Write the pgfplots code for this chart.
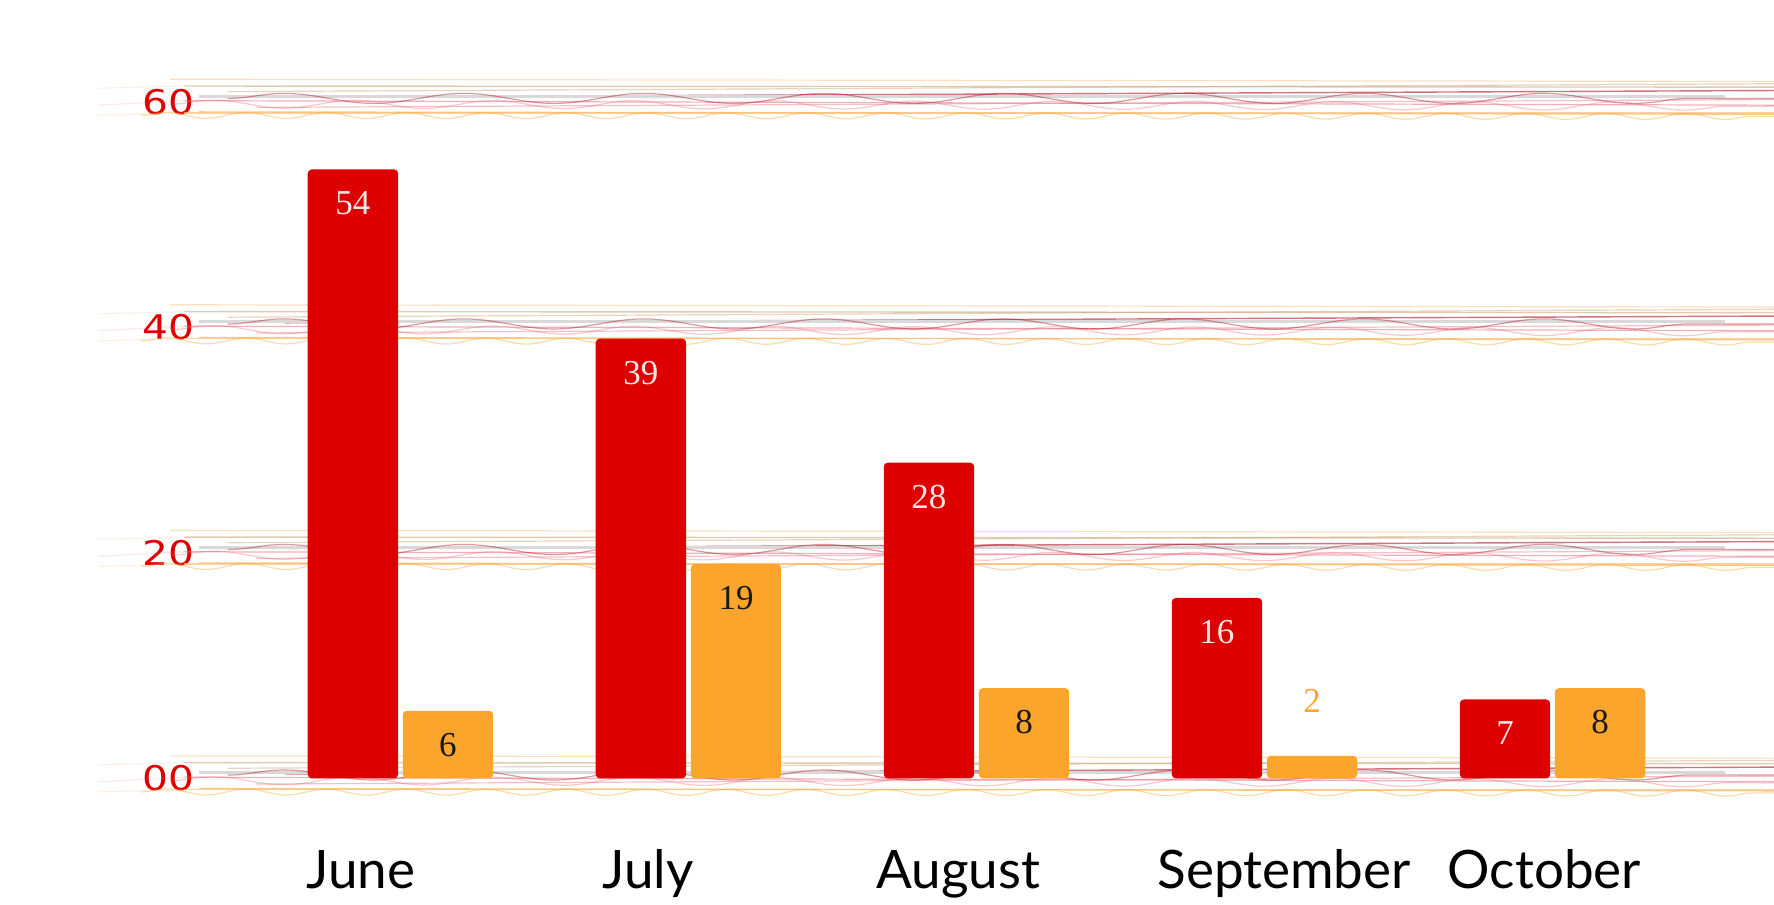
\documentclass[border=0pt]{standalone}
\usepackage{pgfplots}
\pgfplotsset{compat=1.18}
\usepackage{fontspec}
\setmainfont{Liberation Serif}
\newfontfamily\lato{Lato}
\newfontfamily\dvs{DejaVu Sans}
\usetikzlibrary{decorations.pathmorphing}
\definecolor{cred}{HTML}{DD0000}
\definecolor{corange}{HTML}{FBA52D}
\definecolor{ctan}{HTML}{C8A070}
\definecolor{cdark}{HTML}{A80010}
\definecolor{cpink}{HTML}{E86070}
\definecolor{clor}{HTML}{FCC080}
\definecolor{labwhite}{HTML}{F8E4E4}
\begin{document}
\begin{tikzpicture}
\useasboundingbox (0,0) rectangle (887pt,452.5pt);
\begin{axis}[
  at={(99pt,35.1pt)}, anchor=south west,
  scale only axis, width=788pt, height=394.7pt,
  xmin=-0.703, xmax=4.769, ymin=-5, ymax=65,
  clip=false,
  axis line style={draw=none},
  major tick length=0pt,
  /pgf/number format/assume math mode=true,
  ytick={0,20,40,60},
  yticklabels={\scalebox{1.2}[1]{00},\scalebox{1.2}[1]{20},\scalebox{1.2}[1]{40},\scalebox{1.2}[1]{60}},
  yticklabel style={anchor=east, inner sep=0pt, xshift=-1.5pt, text=cred,
    font=\dvs\fontsize{17}{17}\selectfont},
  xtick={-0.137,0.860,1.937,3.068,3.972},
  xticklabels={June,July,August,September,October},
  xticklabel style={anchor=base, inner sep=0pt, yshift=-27pt,
    font=\lato\fontsize{26.5}{26.5}\selectfont},
  ybar, bar width=0.314,
]
\pgfplotsinvokeforeach{0,20,40,60}{
  \draw[ctan, opacity=.15, line width=.6pt] (axis cs:-1.05,{#1+1.2}) -- (axis cs:-0.75,{#1+1.4});
  \draw[cpink, opacity=.15, line width=.6pt] (axis cs:-1.05,{#1-0.3}) -- (axis cs:-0.75,{#1+0.1});
  \draw[clor, opacity=.25, line width=.6pt] (axis cs:-1.05,{#1-1.2}) -- (axis cs:-0.75,{#1-1.0});
  \draw[ctan, opacity=.55, line width=.7pt] (axis cs:-0.75,{#1+1.4}) -- (axis cs:4.77,{#1+1.3});
  \draw[ctan, opacity=.45, line width=.6pt] (axis cs:-0.6,{#1+0.9}) -- (axis cs:4.77,{#1+1.6});
  \draw[cdark, opacity=.55, line width=.7pt] (axis cs:-0.4,{#1+0.4}) -- (axis cs:4.77,{#1+1.0});
  \draw[gray!30, line width=1.4pt] (axis cs:-0.7,{#1+0.5}) -- (axis cs:4.6,{#1+0.5});
  \draw[cpink, opacity=.5, line width=.6pt] (axis cs:-0.75,{#1+0.1}) -- (axis cs:4.77,{#1-0.3});
  \draw[cpink, opacity=.4, line width=.6pt] (axis cs:-0.5,{#1-0.5}) -- (axis cs:4.77,{#1+0.2});
  \draw[corange, opacity=.6, line width=.7pt] (axis cs:-0.7,{#1-0.9}) -- (axis cs:4.77,{#1-1.1});
  \draw[clor, opacity=.7, line width=.7pt] (axis cs:-0.75,{#1-1.0}) -- (axis cs:4.77,{#1-1.0});
  \draw[clor, opacity=.5, line width=.6pt] (axis cs:-0.8,{#1+2.0}) -- (axis cs:4.77,{#1+1.8});
  \draw[decorate, decoration={snake, amplitude=2.5pt, segment length=90pt}, cdark, opacity=.4, line width=.6pt] (axis cs:-0.6,{#1+0.3}) -- (axis cs:4.77,{#1+0.3});
  \draw[decorate, decoration={snake, amplitude=2pt, segment length=70pt}, cpink, opacity=.35, line width=.6pt] (axis cs:-0.8,{#1-0.2}) -- (axis cs:4.77,{#1-0.4});
  \draw[decorate, decoration={snake, amplitude=1.5pt, segment length=40pt}, corange, opacity=.4, line width=.6pt] (axis cs:-0.9,{#1-1.2}) -- (axis cs:4.77,{#1-1.3});
}
\addplot[fill=cred, draw=none, bar shift=-0.165, rounded corners=2pt,
  nodes near coords,
  nodes near coords style={anchor=center, yshift=-17pt, text=labwhite, font=\fontsize{17.5}{17.5}\selectfont}]
  coordinates {(0,54) (1,39) (2,28) (3,16) (4,7)};
\addplot[fill=corange, draw=none, bar shift=0.165, rounded corners=2pt,
  nodes near coords,
  nodes near coords style={anchor=center, yshift=-17pt, text=black!90, font=\fontsize{17.5}{17.5}\selectfont}]
  coordinates {(0,6) (1,19) (2,8) (4,8)};
\addplot[fill=corange, draw=none, bar shift=0.165, rounded corners=2pt,
  nodes near coords,
  nodes near coords style={anchor=center, yshift=27.7pt, text=corange, font=\fontsize{17.5}{17.5}\selectfont}]
  coordinates {(3,2)};
\end{axis}
\end{tikzpicture}
\end{document}
